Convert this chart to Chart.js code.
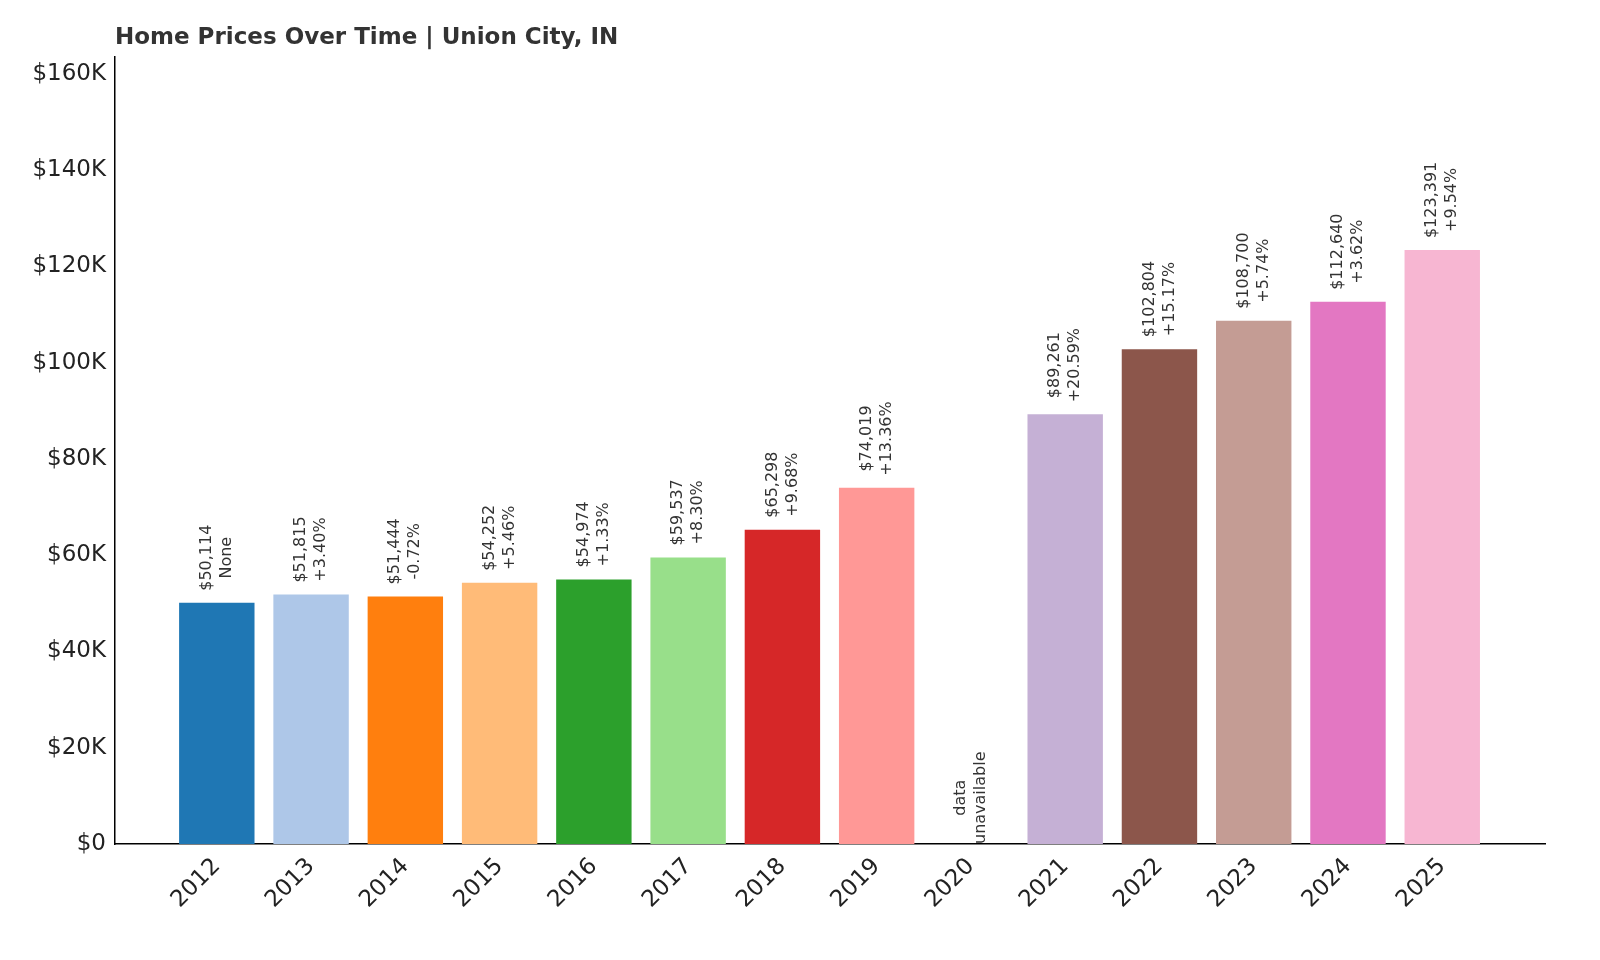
<!DOCTYPE html>
<html><head><meta charset="utf-8">
<script src="https://cdn.jsdelivr.net/npm/chart.js@4"></script>
<style>html,body{margin:0;background:#fff}canvas{display:block}</style>
</head><body>
<div style="width:1600px;height:960px"><canvas id="c" width="1600" height="960"></canvas></div>
<script>
const years = ["2012","2013","2014","2015","2016","2017","2018","2019","2020","2021","2022","2023","2024","2025"];
const prices = [50114, 51815, 51444, 54252, 54974, 59537, 65298, 74019, null, 89261, 102804, 108700, 112640, 123391];
const changes = ["None","+3.40%","-0.72%","+5.46%","+1.33%","+8.30%","+9.68%","+13.36%",null,"+20.59%","+15.17%","+5.74%","+3.62%","+9.54%"];
const colors = ["#1f77b4","#aec7e8","#ff7f0e","#ffbb78","#2ca02c","#98df8a","#d62728","#ff9896","#9467bd","#c5b0d5","#8c564b","#c49c94","#e377c2","#f7b6d2"];
const FONT = "'DejaVu Sans', sans-serif";

const labelPlugin = {
  id: "labels",
  afterDatasetsDraw(chart) {
    const ctx = chart.ctx, xs = chart.scales.x, ys = chart.scales.y;
    ctx.save();
    ctx.fillStyle = "#333";
    ctx.font = "bold 23px " + FONT;
    ctx.textAlign = "left"; ctx.textBaseline = "alphabetic";
    ctx.fillText("Home Prices Over Time | Union City, IN", chart.chartArea.left, 44);
    ctx.font = "16px " + FONT;
    years.forEach((y, i) => {
      const x = xs.getPixelForValue(i);
      let lines, bottom;
      if (prices[i] == null) { lines = ["data", "unavailable"]; bottom = ys.getPixelForValue(0); }
      else { lines = ["$" + prices[i].toLocaleString("en-US"), changes[i]]; bottom = ys.getPixelForValue(prices[i]) - 12; }
      const w = Math.max(...lines.map(l => ctx.measureText(l).width));
      ctx.save();
      ctx.translate(x, bottom - w / 2);
      ctx.rotate(-Math.PI / 2);
      ctx.textAlign = "center"; ctx.textBaseline = "middle";
      ctx.fillText(lines[0], 0, -10);
      ctx.fillText(lines[1], 0, 10);
      ctx.restore();
    });
    ctx.restore();
  }
};

new Chart(document.getElementById("c"), {
  type: "bar",
  data: { datasets: [{
    data: prices.map((v, i) => ({ x: i, y: v })),
    backgroundColor: colors, barPercentage: 0.8, categoryPercentage: 1
  }] },
  options: {
    responsive: false, animation: false,
    layout: { padding: { top: 57, right: 55, left: 0, bottom: 0 } },
    plugins: { legend: { display: false }, tooltip: { enabled: false } },
    scales: {
      x: { type: "linear", offset: false, min: -1.08, max: 14.09,
        afterFit(s) { s.height = 116; },
        afterBuildTicks(s) { s.ticks = years.map((_, i) => ({ value: i })); },
        grid: { display: false, drawTicks: true, tickLength: 6, color: "#000" },
        border: { color: "#000", width: 1.5 },
        ticks: { autoSkip: false, maxRotation: 45, minRotation: 45, color: "#222",
          font: { size: 23, family: FONT }, callback: v => years[v] } },
      y: { min: 0, max: 163500,
        afterFit(s) { s.width = 115; },
        afterBuildTicks(s) { s.ticks = [0,20000,40000,60000,80000,100000,120000,140000,160000].map(v => ({ value: v })); },
        grid: { display: false, drawTicks: true, tickLength: 6, color: "#000" },
        border: { color: "#000", width: 1.5 },
        ticks: { color: "#222", font: { size: 23, family: FONT },
          callback: v => v === 0 ? "$0" : "$" + (v / 1000) + "K" } }
    }
  },
  plugins: [labelPlugin]
});
</script>
</body></html>
